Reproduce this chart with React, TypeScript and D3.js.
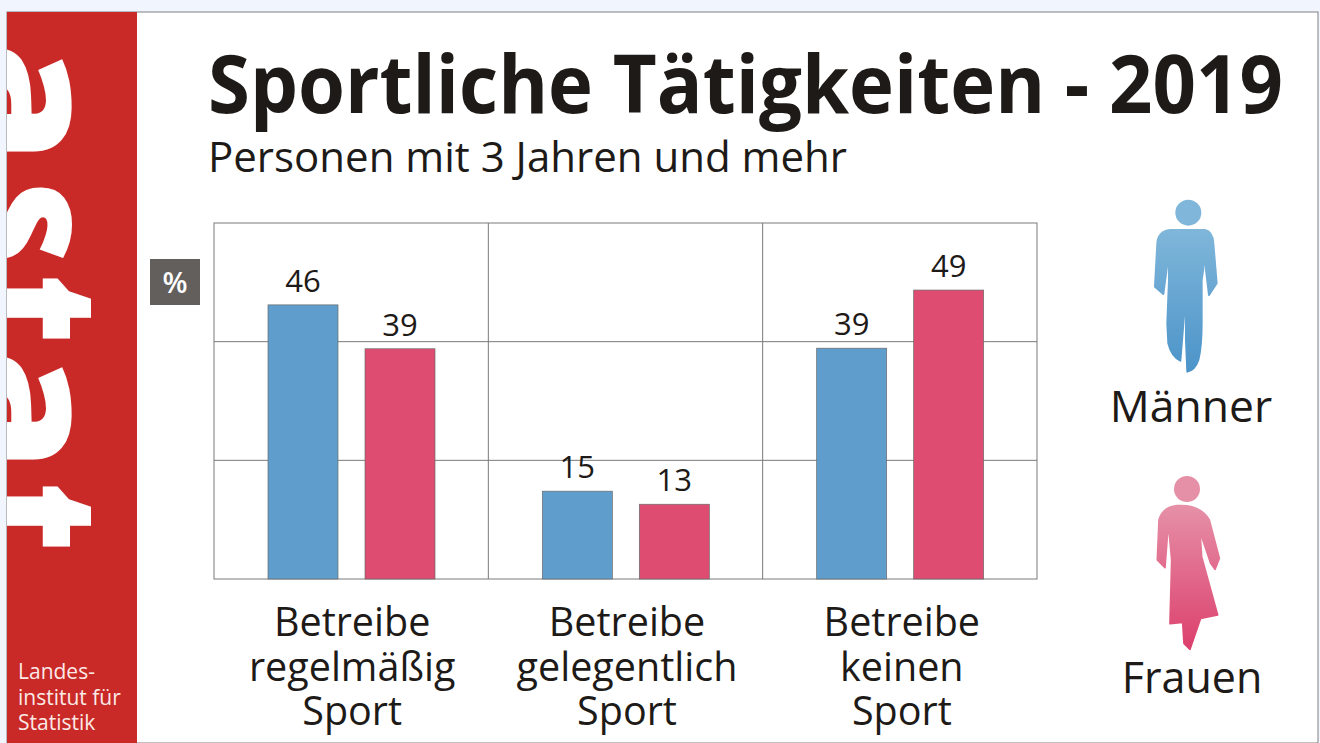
import React from "react";
import * as d3 from "d3";

const categories = [
  ["Betreibe", "regelmäßig", "Sport"],
  ["Betreibe", "gelegentlich", "Sport"],
  ["Betreibe", "keinen", "Sport"],
];
const maenner = [46.2, 14.8, 38.9];
const frauen = [38.8, 12.6, 48.7];
const yTicks = [0, 20, 40, 60];
const seriesNames = ["Männer", "Frauen"];
const logoLetters = ["a", "s", "t", "a", "t"];
const logoY = [102.5, 223, 309.5, 410.5, 517.5];
const logoWiden = [1.04, 0.86, 0.8, 1.04, 0.8];

const FONT = "'Open Sans', sans-serif";
const W = 1320, H = 743;
const plot = { l: 214, r: 1037, t: 223, b: 579 };
const BLUE = "#5f9dcd", PINK = "#de4c71", INK = "#1d1a18";

const MAN = "M210 150 L315 150 Q338 155 340 190 L350 310 L327 345 L318 270 L318 225 Q310 260 305 300 L305 430 Q305 500 295 540 Q285 570 262 575 L258 480 L258 335 L241 542 Q215 530 205 490 L202 430 L207 300 L207 215 L190 342 L165 320 L172 190 Q174 155 210 150 Z";
const WOMAN = "M230 137 Q300 132 328 180 L358 295 L345 328 L332 310 L300 215 L305 290 L353 465 L302 475 L270 568 L252 550 L248 487 L210 491 L215 300 L205 190 L195 323 L172 300 L177 180 Q187 142 230 137 Z";

export default function App() {
  const x = d3.scaleBand<number>().domain([0, 1, 2]).range([plot.l, plot.r]);
  const y = d3.scaleLinear().domain([0, 60]).range([plot.b, plot.t]);
  const fmt = d3.format(".0f");
  const barW = 70;
  const centres = [303, 400];
  const step = x.bandwidth();

  return (
    <svg width={W} height={H} viewBox={`0 0 ${W} ${H}`}
      style={{ position: "fixed", left: 0, top: 0, display: "block", fontFamily: FONT }}>
      <defs>
        <clipPath id="band"><rect x={7} y={12} width={130} height={731} /></clipPath>
        <linearGradient id="gm" x1="0" y1="0" x2="0" y2="1">
          <stop offset="0" stopColor="#7fb6da" /><stop offset="1" stopColor="#4c94c9" />
        </linearGradient>
        <linearGradient id="gf" x1="0" y1="0" x2="0" y2="1">
          <stop offset="0" stopColor="#e690a8" /><stop offset="1" stopColor="#dc3f6c" />
        </linearGradient>
      </defs>
      <rect width={W} height={H} fill="#f0f5fe" />
      <rect x={7} y={12} width={1311} height={731} fill="#fff" stroke="#808080" strokeWidth={1} />
      <rect x={7} y={12} width={130} height={731} fill="#c92a27" />
      <g clipPath="url(#band)">
        {logoLetters.map((c, i) => (
          <text key={i} transform={`translate(-35,${logoY[i]}) rotate(90) scale(${logoWiden[i]},1)`}
            textAnchor="middle" fontSize={190} fontWeight={800} fill="#fff">{c}</text>
        ))}
      </g>
      {["Landes-", "institut für", "Statistik"].map((t, i) => (
        <text key={t} x={18} y={[679, 705, 730][i]} fontSize={21} fill="#fbe9e6">{t}</text>
      ))}

      <text x={208} y={113} fontSize={80} fontWeight={700} fill={INK}
        textLength={1075} lengthAdjust="spacingAndGlyphs">Sportliche Tätigkeiten - 2019</text>
      <text x={208} y={172} fontSize={42} fill={INK}>Personen mit 3 Jahren und mehr</text>

      <rect x={150} y={259} width={50} height={46} fill="#625f5d" />
      <text x={175} y={293} textAnchor="middle" fontSize={29} fontWeight={600} fill="#fff">%</text>

      <rect x={plot.l} y={plot.t} width={plot.r - plot.l} height={plot.b - plot.t} fill="#fff" stroke="#7a7a7a" />
      {yTicks.slice(1, -1).map((t) => (
        <line key={t} x1={plot.l} x2={plot.r} y1={y(t)} y2={y(t)} stroke="#7a7a7a" />
      ))}
      {[1, 2].map((i) => (
        <line key={i} x1={x(i)} x2={x(i)} y1={plot.t} y2={plot.b} stroke="#7a7a7a" />
      ))}

      {categories.map((lines, i) => {
        const off = (x(i) as number) - plot.l;
        return (
          <g key={i}>
            {[maenner[i], frauen[i]].map((v, s) => {
              const cx = centres[s] + off;
              return (
                <g key={s}>
                  <rect x={cx - barW / 2} y={y(v)} width={barW} height={plot.b - y(v)}
                    fill={s === 0 ? BLUE : PINK} stroke="#6b6b6b" strokeWidth={0.7} />
                  <text x={cx} y={y(v) - 13} textAnchor="middle" fontSize={31} fill={INK}>{fmt(v)}</text>
                </g>
              );
            })}
            {lines.map((t, j) => (
              <text key={j} x={plot.l + step * i + step / 2 + [1, 1.5, 2][i]} y={636 + j * 44.5} textAnchor="middle"
                fontSize={39.5} fill={INK}>{t}</text>
            ))}
          </g>
        );
      })}

      <g transform="translate(1100,180) scale(0.3333)">
        <circle cx={265} cy={98} r={39} fill="#7fb6da" />
        <path d={MAN} fill="url(#gm)" stroke="url(#gm)" strokeWidth={6} strokeLinejoin="round" />
      </g>
      <g transform="translate(1100,460) scale(0.3333)">
        <circle cx={261} cy={87} r={39} fill="#e690a8" />
        <path d={WOMAN} fill="url(#gf)" stroke="url(#gf)" strokeWidth={5} strokeLinejoin="round" />
      </g>
      <text x={1191} y={422} textAnchor="middle" fontSize={44.5} fill={INK}>{seriesNames[0]}</text>
      <text x={1192} y={693} textAnchor="middle" fontSize={43} fill={INK}>{seriesNames[1]}</text>
    </svg>
  );
}
